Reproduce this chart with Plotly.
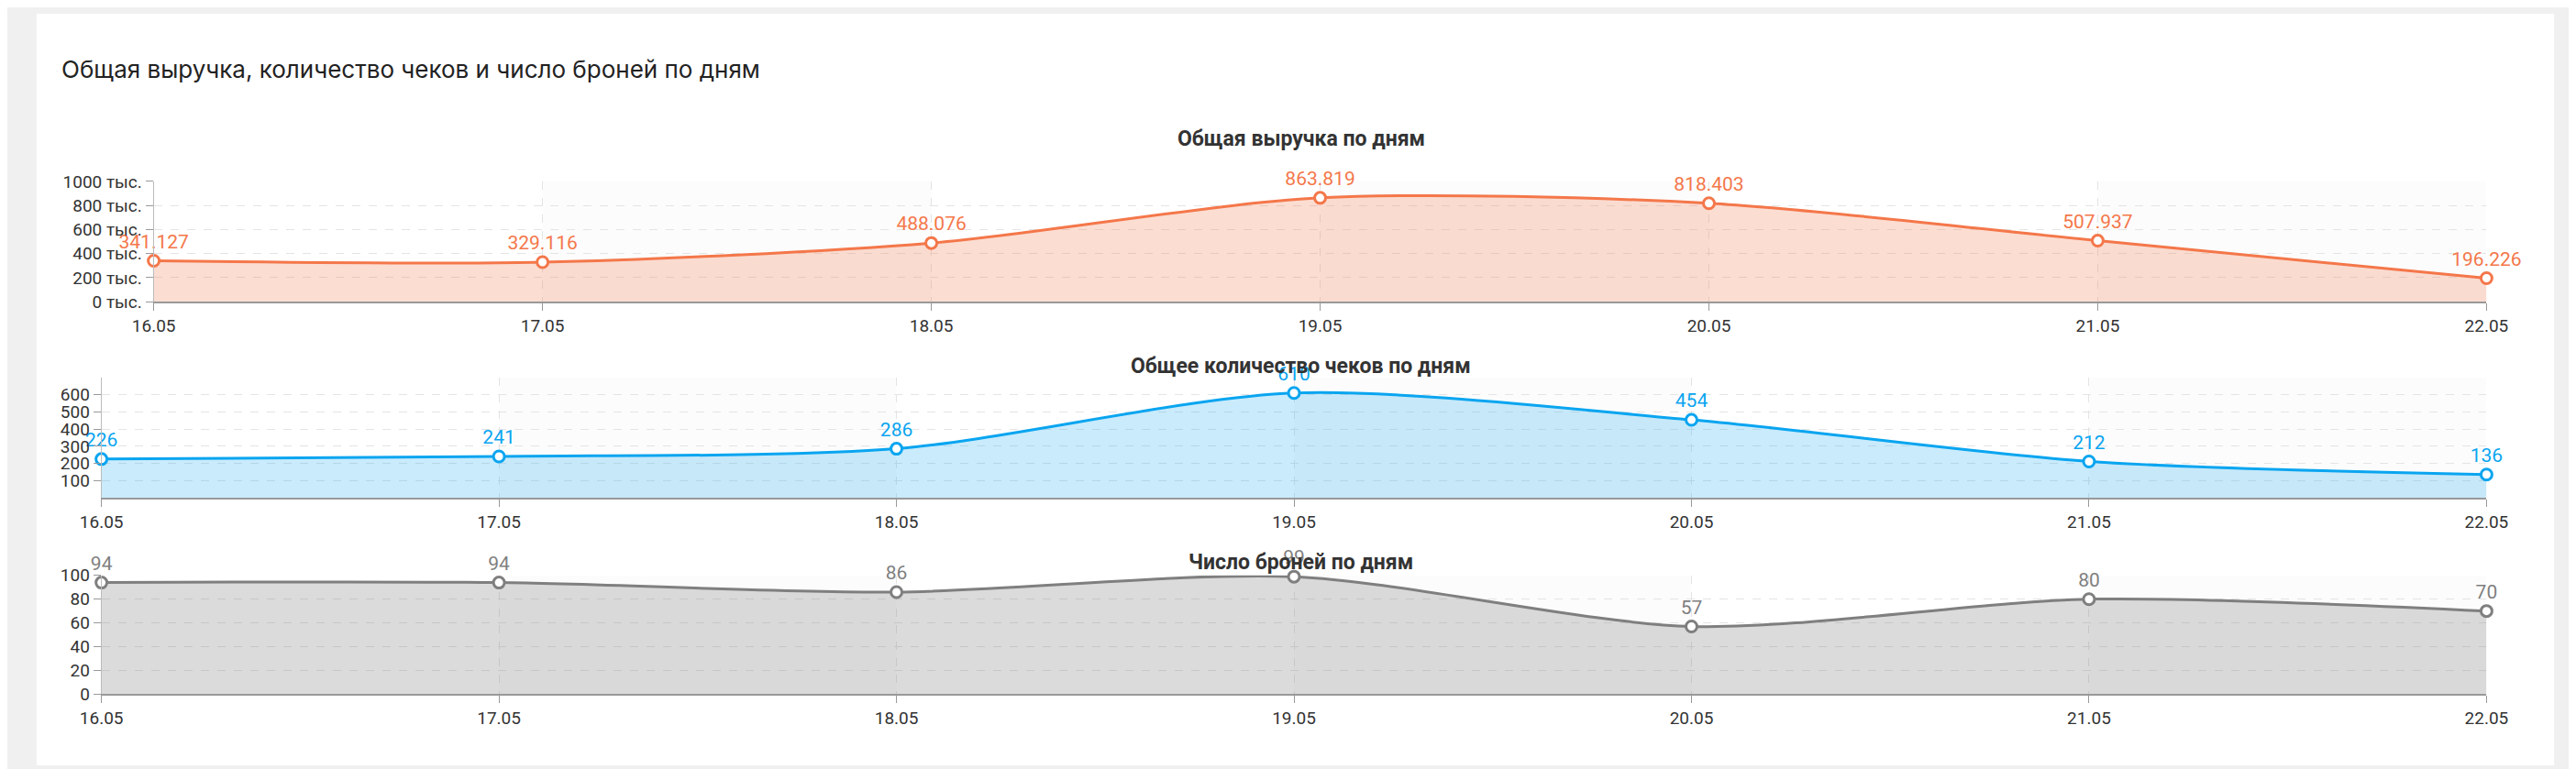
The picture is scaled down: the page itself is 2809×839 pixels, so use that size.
import plotly.graph_objects as go

days = ["16.05", "17.05", "18.05", "19.05", "20.05", "21.05", "22.05"]
revenue = [341127, 329116, 488076, 863819, 818403, 507937, 196226]
revenue_labels = ["341.127", "329.116", "488.076", "863.819", "818.403", "507.937", "196.226"]
checks = [226, 241, 286, 610, 454, 212, 136]
bookings = [94, 94, 86, 99, 57, 80, 70]

W, H = 2809, 839
DX, DY = -14, -14
def py(px): return 1 - (px + DY) / H
def pxx(px): return (px + DX) / W

fig = go.Figure()
xs = list(range(len(days)))
series = [
    (revenue, revenue_labels, "#f4774a", "rgba(244,119,74,0.25)", "x", "y"),
    (checks, [str(v) for v in checks], "#0aa5f0", "rgba(10,165,240,0.22)", "x2", "y2"),
    (bookings, [str(v) for v in bookings], "#7f7f7f", "rgba(127,127,127,0.28)", "x3", "y3"),
]
for vals, labels, col, fill, xa, ya in series:
    fig.add_trace(go.Scatter(x=xs, y=vals, mode="lines+markers+text", text=labels,
        textposition="top center", textfont=dict(color=col, size=21, family="Roboto"),
        line=dict(color=col, width=3, shape="spline", smoothing=0.8),
        marker=dict(size=12, color="white", line=dict(color=col, width=3)),
        fill="tozeroy", fillcolor=fill, xaxis=xa, yaxis=ya, cliponaxis=False, showlegend=False))

tickfont = dict(size=19, color="#333", family="Roboto")
common_x = dict(tickmode="array", tickvals=xs, ticktext=days, range=[0, 6], showgrid=True,
                gridcolor="#e4e4e4", griddash="dash", showline=True, linecolor="#999", linewidth=2,
                ticks="outside", ticklen=8, tickcolor="#999", tickfont=tickfont, zeroline=False)
common_y = dict(showgrid=True, gridcolor="#e4e4e4", griddash="dash", showline=True, linecolor="#bbb",
                ticks="outside", ticklen=8, tickcolor="#999", tickfont=tickfont, zeroline=False)

ydoms = [(198, 333), (418, 553), (640, 773)]
xl = [152, 94, 94]
xr = 2740
fig.update_layout(
    width=W, height=H, margin=dict(l=0, r=0, t=0, b=0),
    paper_bgcolor="#f0f0f0", plot_bgcolor="white",
    xaxis=dict(common_x, domain=[pxx(xl[0]), pxx(xr)], anchor="y"),
    yaxis=dict(common_y, domain=[py(ydoms[0][1]), py(ydoms[0][0])], anchor="x", range=[0, 1000000],
               tickvals=[0, 200000, 400000, 600000, 800000, 1000000],
               ticktext=["0 тыс.", "200 тыс.", "400 тыс.", "600 тыс.", "800 тыс.", "1000 тыс."]),
    xaxis2=dict(common_x, domain=[pxx(xl[1]), pxx(xr)], anchor="y2"),
    yaxis2=dict(common_y, domain=[py(ydoms[1][1]), py(ydoms[1][0])], anchor="x2", range=[0, 700],
                tickvals=[100, 200, 300, 400, 500, 600]),
    xaxis3=dict(common_x, domain=[pxx(xl[2]), pxx(xr)], anchor="y3"),
    yaxis3=dict(common_y, domain=[py(ydoms[2][1]), py(ydoms[2][0])], anchor="x3", range=[0, 100],
                tickvals=[0, 20, 40, 60, 80, 100]),
)

shapes = [dict(type="rect", xref="paper", yref="paper", x0=pxx(22), x1=pxx(2815), y0=0, y1=py(10),
               fillcolor="white", line=dict(width=0), layer="below")]
for i, (xa, ya) in enumerate([("x", "y"), ("x2", "y2"), ("x3", "y3")]):
    for a in [1, 3, 5]:
        shapes.append(dict(type="rect", xref=xa, yref=ya + " domain", x0=a, x1=a + 1, y0=0, y1=1,
                           fillcolor="rgba(0,0,0,0.012)", line=dict(width=0), layer="below"))
fig.update_layout(shapes=shapes)

ann = [dict(text="Общая выручка, количество чеков и число броней по дням", xref="paper", yref="paper",
            x=pxx(48), y=py(72), xanchor="left", yanchor="middle", showarrow=False,
            font=dict(size=26, color="#222", family="Inter"))]
for t, yy in [("Общая выручка по дням", 150), ("Общее количество чеков по дням", 405), ("Число броней по дням", 625)]:
    ann.append(dict(text="<b>" + t + "</b>", xref="paper", yref="paper", x=pxx((94 + xr) / 2 + 8), y=py(yy),
                    xanchor="center", yanchor="middle", showarrow=False,
                    font=dict(size=23, color="#333", family="Roboto")))
fig.update_layout(annotations=ann)
fig.write_html("out.html")
